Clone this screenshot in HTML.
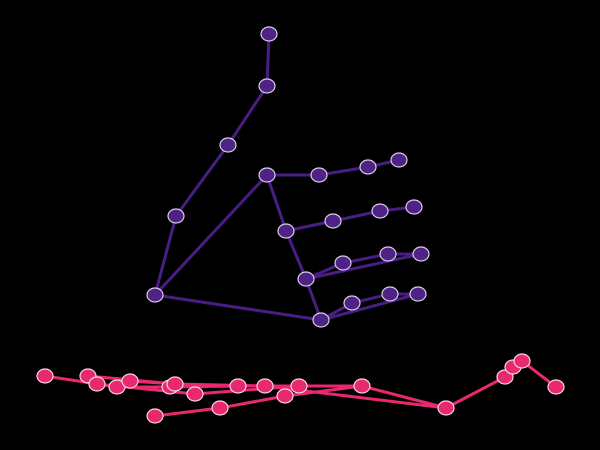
<!DOCTYPE html>
<html><head><meta charset="utf-8"><style>
html,body{margin:0;padding:0;background:#000;}
svg{display:block;}
</style></head><body>
<svg id="chart" width="600" height="450" viewBox="0 0 600 450">
<rect width="600" height="450" fill="#000"/>
<g id="edges"></g><g id="nodes"></g>
</svg>
<script>
const purpleX=[155,176,228,267,269,267,319,368,399,286,333,380,414,306,343,388,421,321,352,390,418];
const purpleY=[295,216,145,86,34,175,175,167,160,231,221,211,207,279,263,254,254,320,303,294,294];
const handEdges=[[0,1],[1,2],[2,3],[3,4],[0,5],[5,6],[6,7],[7,8],[5,9],[9,10],[10,11],[11,12],[9,13],[13,14],[14,15],[15,16],[13,17],[17,18],[18,19],[19,20],[0,17],[13,16],[17,20]];
const pinkX=[45,88,97,117,130,170,175,195,238,265,299,285,220,155,362,446,505,513,522,556];
const pinkY=[376,376,384,387,381,387,384,394,386,386,386,396,408,416,386,408,377,367,361,387];
const pinkChains=[[0,3,5,8,10,14,15],[1,6,9,15],[2,7,10],[4,6],[13,12,11,14],[15,16,17,18,19]];
const NS='http://www.w3.org/2000/svg';
const eg=document.getElementById('edges'),ng=document.getElementById('nodes');
function line(x1,y1,x2,y2,c){const l=document.createElementNS(NS,'line');
l.setAttribute('x1',x1);l.setAttribute('y1',y1);l.setAttribute('x2',x2);l.setAttribute('y2',y2);
l.setAttribute('stroke',c);l.setAttribute('stroke-width',3);eg.appendChild(l);return l;}
handEdges.forEach(e=>{const l=line(purpleX[e[0]],purpleY[e[0]],purpleX[e[1]],purpleY[e[1]],'#4a1d85');

});
pinkChains.forEach(ch=>{for(let i=0;i<ch.length-1;i++){const a=ch[i],b=ch[i+1];
const l=line(pinkX[a],pinkY[a],pinkX[b],pinkY[b],'#e8296f');

}});
function node(x,y,f){const c=document.createElementNS(NS,'ellipse');
c.setAttribute('cx',x);c.setAttribute('cy',y);c.setAttribute('rx',8);c.setAttribute('ry',7);
c.setAttribute('fill',f);c.setAttribute('stroke','#d8cce8');c.setAttribute('stroke-width',1.2);ng.appendChild(c);return c;}
purpleX.forEach((x,i)=>{const c=node(x,purpleY[i],'#4f2385');

});
pinkX.forEach((x,i)=>{const c=node(x,pinkY[i],'#e8296f');
c.setAttribute('stroke','#f6d6e2');

});
</script>
</body></html>
